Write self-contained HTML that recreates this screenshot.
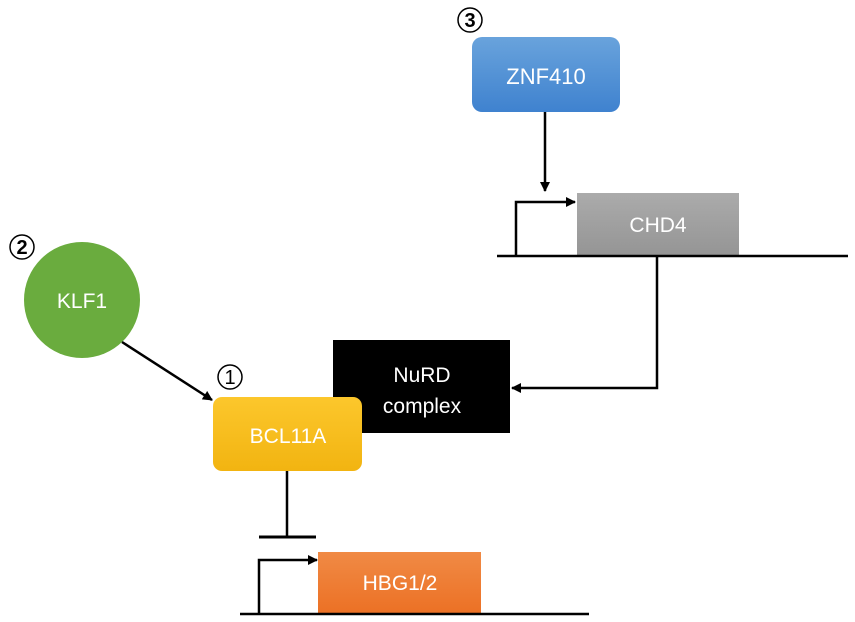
<!DOCTYPE html>
<html><head><meta charset="utf-8"><style>
html,body{margin:0;padding:0;background:#fff;width:855px;height:622px;overflow:hidden}
svg text{font-family:"Liberation Sans",sans-serif;fill:#fff;text-anchor:middle}
</style></head><body>
<svg width="855" height="622" viewBox="0 0 855 622">
<defs>
<linearGradient id="gb" x1="0" y1="0" x2="0" y2="1"><stop offset="0" stop-color="#69a3dc"/><stop offset="1" stop-color="#3f82cf"/></linearGradient>
<linearGradient id="gg" x1="0" y1="0" x2="0" y2="1"><stop offset="0" stop-color="#ababab"/><stop offset="1" stop-color="#959595"/></linearGradient>
<linearGradient id="gy" x1="0" y1="0" x2="0" y2="1"><stop offset="0" stop-color="#fcc72c"/><stop offset="1" stop-color="#f2b411"/></linearGradient>
<linearGradient id="go" x1="0" y1="0" x2="0" y2="1"><stop offset="0" stop-color="#f08a45"/><stop offset="1" stop-color="#ec7125"/></linearGradient>
<marker id="ah" markerWidth="10" markerHeight="10" refX="9" refY="5" orient="auto" markerUnits="userSpaceOnUse"><path d="M0,0 L10,5 L0,10 z" fill="#000"/></marker>
</defs>
<g stroke="#000" stroke-width="1.5" fill="none">
<circle cx="470" cy="20" r="12"/><circle cx="22" cy="247" r="12"/><circle cx="230" cy="377" r="12"/>
</g>
<text x="470" y="27" font-size="20" font-weight="bold" style="fill:#000">3</text>
<text x="22" y="254" font-size="20" font-weight="bold" style="fill:#000">2</text>
<text x="230" y="384" font-size="20" style="fill:#000">1</text>
<rect x="472" y="37" width="148" height="75" rx="10" fill="url(#gb)"/>
<text x="546" y="84" font-size="22">ZNF410</text>
<rect x="577" y="193" width="162" height="62" fill="url(#gg)"/>
<text x="658" y="232" font-size="21">CHD4</text>
<circle cx="82" cy="300" r="58" fill="#6aac3e"/>
<text x="82" y="308" font-size="21">KLF1</text>
<rect x="333" y="340" width="177" height="93" fill="#000"/>
<text x="422" y="382" font-size="21">NuRD</text>
<text x="422" y="413" font-size="21">complex</text>
<rect x="213" y="397" width="149" height="74" rx="9" fill="url(#gy)"/>
<text x="288" y="443" font-size="21">BCL11A</text>
<rect x="318" y="552" width="163" height="61" fill="url(#go)"/>
<text x="400" y="590" font-size="21">HBG1/2</text>
<g stroke="#000" stroke-width="2.5" fill="none">
<line x1="497" y1="256" x2="848" y2="256"/>
<line x1="240" y1="614" x2="589" y2="614"/>
<line x1="545" y1="112" x2="545" y2="191" marker-end="url(#ah)"/>
<polyline points="516,256 516,202 575,202" marker-end="url(#ah)"/>
<polyline points="657,256 657,388 512,388" marker-end="url(#ah)"/>
<line x1="122" y1="342" x2="212" y2="400" marker-end="url(#ah)"/>
<line x1="287" y1="471" x2="287" y2="537"/>
<line x1="259" y1="537" x2="316" y2="537" stroke-width="3"/>
<polyline points="259,614 259,560 317,560" marker-end="url(#ah)"/>
</g>
</svg>
</body></html>
